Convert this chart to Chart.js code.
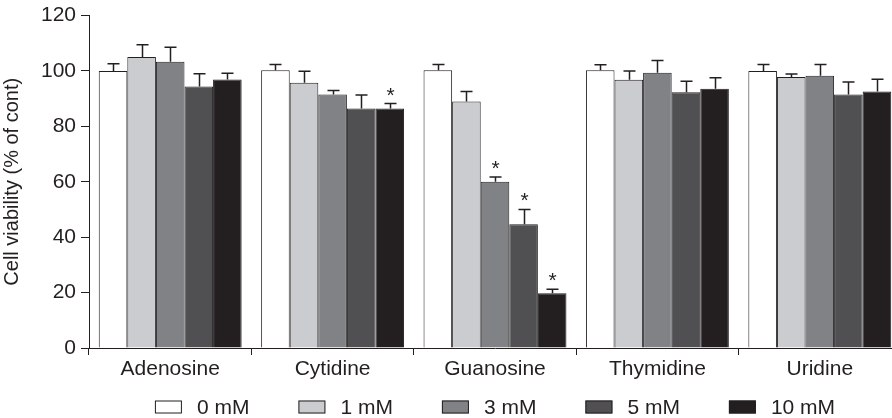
<!DOCTYPE html>
<html>
<head>
<meta charset="utf-8">
<script src="https://cdn.jsdelivr.net/npm/chart.js@4.4.1/dist/chart.umd.min.js"></script>
<style>
  html, body { margin: 0; padding: 0; background: #fff; overflow: hidden; }
  #wrap { width: 901px; height: 418px; }
</style>
</head>
<body>
<div id="wrap"><canvas id="chart" width="901" height="418"></canvas></div>
<script>
// Nucleoside treatments (x categories) and doses (series)
const categories = ['Adenosine', 'Cytidine', 'Guanosine', 'Thymidine', 'Uridine'];
const doseLabels = ['0 mM', '1 mM', '3 mM', '5 mM', '10 mM'];

// Mean cell viability, % of control
const viability0mM  = [100, 100.2, 100.2, 100.2, 100];
const viability1mM  = [105, 95.7, 89, 96.8, 97.8];
const viability3mM  = [103.3, 91.5, 60, 99.3, 98.3];
const viability5mM  = [94.4, 86.4, 44.7, 92.3, 91.5];
const viability10mM = [96.9, 86.4, 19.8, 93.6, 92.6];

// Upper error bars (SD)
const error0mM  = [2.6, 2.1, 2.1, 2.0, 2.3];
const error1mM  = [4.4, 4.2, 3.6, 3.2, 1.1];
const error3mM  = [5.2, 1.4, 1.7, 4.5, 4.0];
const error5mM  = [4.6, 4.9, 5.3, 4.0, 4.5];
const error10mM = [2.3, 1.8, 1.4, 3.9, 4.4];

// Significance marks (1 = asterisk)
const star0mM  = [0, 0, 0, 0, 0];
const star1mM  = [0, 0, 0, 0, 0];
const star3mM  = [0, 0, 1, 0, 0];
const star5mM  = [0, 0, 1, 0, 0];
const star10mM = [0, 1, 1, 0, 0];

const yTicks = [0, 20, 40, 60, 80, 100, 120];

const ink = '#231f20';
const fontFamily = "'Liberation Sans', Arial, Helvetica, sans-serif";
const fills = ['#ffffff', '#cbcccf', '#818286', '#505053', '#231f20'];

const values = [viability0mM, viability1mM, viability3mM, viability5mM, viability10mM];
const errors = [error0mM, error1mM, error3mM, error5mM, error10mM];
const stars = [star0mM, star1mM, star3mM, star5mM, star10mM];

// Draws the upper error bars and asterisks on top of each bar
const errorBarPlugin = {
    id: 'errorBars',
    afterDatasetsDraw(chart) {
        const ctx = chart.ctx;
        const yScale = chart.scales.y;
        ctx.save();
        ctx.strokeStyle = ink;
        ctx.fillStyle = ink;
        ctx.lineWidth = 1.5;
        chart.data.datasets.forEach((ds, i) => {
            const meta = chart.getDatasetMeta(i);
            meta.data.forEach((bar, j) => {
                const top = yScale.getPixelForValue(ds.data[j] + ds.errors[j]);
                const x = Math.round(bar.x) + 0.5;
                ctx.beginPath();
                ctx.moveTo(x, bar.y);
                ctx.lineTo(x, top);
                ctx.moveTo(x - 6, top);
                ctx.lineTo(x + 6, top);
                ctx.stroke();
                if (ds.stars[j]) {
                    ctx.font = '21px ' + fontFamily;
                    ctx.textAlign = 'center';
                    ctx.textBaseline = 'alphabetic';
                    ctx.fillText('*', x, top - 2);
                }
            });
        });
        ctx.restore();
    }
};

// Legend row under the axis, centred on the plot area
const legendPlugin = {
    id: 'doseLegend',
    afterDraw(chart) {
        const ctx = chart.ctx;
        const area = chart.chartArea;
        const boxW = 27, boxH = 13, gap = 15, spacing = 49;
        ctx.save();
        ctx.font = '21px ' + fontFamily;
        const items = chart.data.datasets.map(ds => ({
            text: ds.label,
            fill: ds.backgroundColor,
            w: boxW + gap + ctx.measureText(ds.label).width
        }));
        const total = items.reduce((s, it) => s + it.w, 0) + spacing * (items.length - 1);
        let x = (area.left + area.right) / 2 - total / 2;
        const yBox = 400.5;
        items.forEach(it => {
            ctx.fillStyle = it.fill;
            ctx.fillRect(x, yBox, boxW, boxH);
            ctx.strokeStyle = ink;
            ctx.lineWidth = 1;
            ctx.strokeRect(x + 0.5, yBox + 0.5, boxW - 1, boxH - 1);
            ctx.fillStyle = ink;
            ctx.textAlign = 'left';
            ctx.textBaseline = 'alphabetic';
            ctx.fillText(it.text, x + boxW + gap, 414);
            x += it.w + spacing;
        });
        ctx.restore();
    }
};

const datasets = doseLabels.map((label, i) => ({
    label: label,
    data: values[i],
    errors: errors[i],
    stars: stars[i],
    backgroundColor: fills[i],
    borderColor: ink,
    borderWidth: 1,
    borderSkipped: 'bottom',
    categoryPercentage: 0.88,
    barPercentage: 1.0
}));

new Chart(document.getElementById('chart'), {
    type: 'bar',
    data: { labels: categories, datasets: datasets },
    options: {
        responsive: false,
        animation: false,
        layout: { padding: { top: 4, right: 0, bottom: 0, left: 0 } },
        plugins: {
            legend: { display: false },
            tooltip: { enabled: false }
        },
        scales: {
            x: {
                grid: {
                    offset: true,
                    drawOnChartArea: false,
                    drawTicks: true,
                    tickLength: 7,
                    color: ink,
                    lineWidth: 1
                },
                border: { color: ink, width: 1 },
                ticks: {
                    color: ink,
                    padding: 2,
                    font: { family: fontFamily, size: 21 }
                },
                afterFit: (scale) => { scale.height = 70; }
            },
            y: {
                min: 0,
                max: 120,
                afterBuildTicks: (scale) => { scale.ticks = yTicks.map(v => ({ value: v })); },
                grid: {
                    drawOnChartArea: false,
                    drawTicks: true,
                    tickLength: 8,
                    color: ink,
                    lineWidth: 1
                },
                border: { color: ink, width: 1 },
                ticks: {
                    color: ink,
                    padding: 5,
                    font: { family: fontFamily, size: 21, lineHeight: 1.0 }
                },
                title: {
                    display: true,
                    text: 'Cell viability (% of cont)',
                    color: ink,
                    font: { family: fontFamily, size: 20 },
                    padding: 0
                },
                afterFit: (scale) => { scale.width = 89; }
            }
        }
    },
    plugins: [errorBarPlugin, legendPlugin]
});
</script>
</body>
</html>
